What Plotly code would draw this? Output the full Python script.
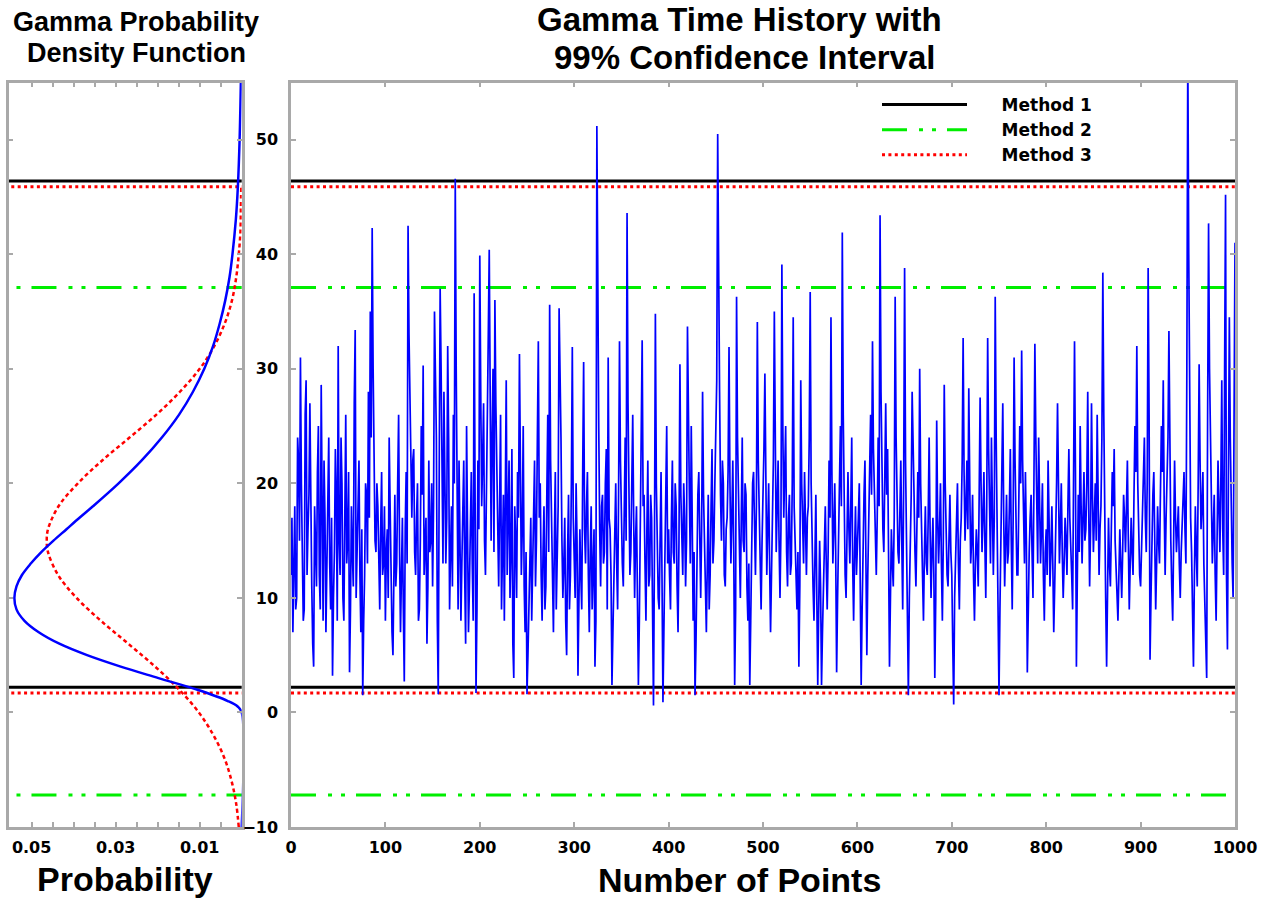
import plotly.graph_objects as go

# ---------------- data ----------------
# samples at even positions 0, 2, ..., 1000
gamma_values_even = [
    12, 7, 18, 10, 22, 31, 14, 9, 29, 16, 27, 11, 4, 15, 21, 12, 28.6, 8, 17, 13, 24, 9, 3.2, 14, 19,
    32, 12, 20, 8, 26, 15, 3.5, 18, 11, 33.4, 14, 22, 7, 1.5, 12, 19, 28, 35, 42.3, 23, 14, 18, 9, 21, 13,
    8, 16, 24, 11, 5, 19, 13, 26, 7, 17, 2.7, 21, 42.5, 28, 17, 23, 12, 20, 9, 25, 30.3, 14, 6, 22, 15,
    11, 35, 24, 1.6, 37, 20, 28, 13, 32, 9, 18, 26, 46.6, 15, 22, 8, 19, 12, 25, 7, 17, 13, 36.6, 1.7, 22,
    39.9, 18, 27, 12, 24, 40.4, 15, 30, 36, 20, 11, 26, 14, 8, 29, 17, 10, 23, 3, 15, 21, 31.3, 12, 25, 7,
    1.6, 9, 17, 12, 22, 15, 32.4, 20, 8, 18, 11, 26, 35.6, 16, 7, 21, 13, 35.3, 24, 10, 17, 5, 19, 12, 31.9,
    14, 20, 3.2, 16, 9, 30.6, 13, 21, 7, 18, 12, 4, 51.2, 25, 11, 19, 14, 23, 31, 16, 2.4, 12, 20, 9, 32.4,
    17, 11, 24, 43.6, 20, 14, 26, 10, 18, 2.4, 15, 32.5, 19, 8, 22, 12, 17, 0.6, 34.8, 14, 9, 21, 0.9, 13, 25,
    16, 9, 22, 13, 18, 7, 30.4, 15, 20, 11, 33.7, 19, 25, 8, 1.5, 14, 21, 10, 28, 16, 7, 19, 12, 23, 15,
    24, 50.5, 28, 15, 20, 11, 17, 31.9, 13, 22, 2.4, 36.3, 18, 10, 24, 14, 19, 8, 2.4, 16, 21, 12, 34.1, 17, 9,
    18, 29.6, 12, 20, 7, 16, 35, 14, 22, 10, 39.1, 17, 25, 11, 19, 13, 34.5, 15, 9, 4, 29, 16, 21, 12, 18,
    36.7, 14, 8, 19, 2.4, 15, 2.4, 11, 18, 9, 22, 34.5, 13, 20, 3.5, 16, 25, 41.9, 17, 10, 21, 13, 24, 8, 18,
    14, 20, 2.4, 15, 22, 5, 17, 26, 32.4, 19, 12, 24, 43.4, 21, 14, 27, 23, 4, 16, 11, 36.3, 18, 13, 22, 9,
    38.8, 16, 1.5, 14, 28, 19, 11, 21, 30, 15, 8, 18, 12, 24, 10, 17, 3, 25.5, 13, 20, 8, 28.6, 15, 11, 19,
    12, 0.7, 14, 20, 9, 17, 32.7, 15, 22, 28.3, 13, 19, 8, 16, 11, 27.5, 14, 21, 10, 32.7, 17, 24, 12, 36.3, 18,
    1.5, 15, 27, 11, 19, 14, 23, 9, 31, 17, 12, 25, 31.6, 16, 21, 3.5, 14, 19, 10, 32.2, 18, 24, 13, 20, 8,
    16, 22, 11, 18, 7, 15, 27, 13, 20, 10, 17, 12, 23, 15, 9, 32.4, 4, 19, 25, 13, 21, 16, 28, 11, 27,
    14, 20, 26, 12, 18, 38.4, 15, 4, 17, 11, 21, 23, 13, 8, 16, 10, 19, 14, 22, 9, 17, 12, 25, 32, 15,
    11, 19, 24, 14, 38.8, 4.6, 16, 21, 9, 18, 13, 25, 29, 12, 20, 33.3, 15, 8, 22, 14, 18, 10, 16, 21, 13,
    58, 22, 14, 4, 18, 11, 30.4, 16, 21, 9, 3, 42.7, 24, 13, 19, 8, 22, 14, 29, 12, 45.2, 5.5, 34.5, 17, 10,
    41,
]
# samples at odd positions 1, 3, ..., 999
gamma_values_odd = [
    17, 13, 9, 24, 15, 20, 8, 26, 12, 19, 14, 6, 18, 11, 25, 9, 16, 22, 7, 20, 13, 17, 10, 23, 8,
    15, 24, 10, 17, 13, 21, 9, 14, 27, 10, 19, 12, 16, 8, 20, 13, 17, 24, 30, 15, 20, 11, 16, 12, 18,
    14, 10, 18, 7, 15, 11, 20, 14, 12, 9, 16, 13, 33, 19, 22, 14, 17, 8, 15, 19, 12, 17, 11, 14, 20,
    18, 27, 8, 21, 30, 13, 22, 17, 24, 14, 11, 20, 30, 9, 16, 13, 22, 6, 15, 11, 21, 8, 24, 9, 16,
    28, 22, 15, 19, 33, 20, 24, 14, 27, 13, 18, 9, 19, 16, 12, 22, 14, 6, 18, 10, 17, 20, 16, 11, 14,
    5, 13, 8, 16, 11, 24, 17, 12, 14, 9, 19, 14, 22, 11, 15, 9, 18, 26, 15, 13, 8, 14, 9, 20, 17,
    10, 15, 9, 12, 21, 16, 18, 12, 14, 9, 16, 8, 30, 16, 18, 13, 20, 9, 17, 12, 7, 16, 13, 19, 22,
    13, 18, 15, 27, 12, 20, 17, 15, 10, 8, 21, 18, 13, 16, 11, 19, 9, 14, 20, 10, 16, 12, 7, 18, 13,
    12, 17, 14, 20, 11, 15, 19, 12, 17, 15, 22, 13, 17, 14, 6, 19, 12, 16, 19, 11, 14, 9, 18, 13, 20,
    29, 33, 19, 22, 12, 16, 21, 20, 17, 14, 9, 24, 13, 17, 15, 20, 11, 13, 8, 20, 15, 18, 22, 12, 15,
    23, 17, 16, 13, 12, 22, 20, 18, 15, 16, 25, 21, 14, 17, 12, 20, 18, 10, 14, 11, 20, 13, 15, 17, 24,
    20, 11, 15, 10, 9, 11, 7, 16, 13, 14, 17, 21, 16, 14, 10, 20, 18, 26, 12, 15, 16, 18, 13, 14, 12,
    17, 11, 9, 19, 13, 12, 21, 19, 23, 15, 17, 18, 28, 16, 20, 19, 14, 10, 13, 17, 24, 14, 19, 15, 20,
    22, 9, 10, 19, 21, 14, 16, 17, 20, 12, 14, 13, 17, 16, 14, 12, 10, 17, 16, 13, 15, 20, 12, 16, 14,
    6, 10, 18, 13, 15, 22, 21, 18, 16, 20, 15, 12, 13, 14, 19, 20, 17, 15, 18, 23, 13, 19, 17, 24, 9,
    9, 20, 17, 15, 13, 18, 15, 17, 22, 12, 18, 20, 22, 13, 15, 10, 17, 14, 20, 24, 13, 17, 16, 12, 14,
    12, 17, 14, 13, 11, 20, 18, 16, 14, 13, 15, 18, 17, 12, 20, 21, 12, 14, 18, 17, 15, 20, 18, 16, 19,
    17, 15, 19, 16, 24, 26, 10, 12, 13, 16, 18, 15, 10, 12, 13, 14, 17, 18, 15, 13, 14, 19, 21, 20, 12,
    15, 22, 17, 20, 26, 10, 19, 14, 13, 15, 19, 21, 18, 17, 24, 20, 11, 15, 17, 16, 13, 14, 19, 16, 30,
    40, 17, 9, 12, 14, 20, 22, 18, 13, 6, 26, 30, 17, 16, 12, 15, 18, 20, 16, 30, 12, 20, 24, 13, 25,
]

gamma_level = [-10, 0, 0.5, 1, 2, 3, 4, 5, 6, 7, 8, 9, 10, 11, 12, 13, 14, 15, 16, 17, 18, 20, 22, 24,
               26, 28, 30, 32, 34, 36, 38, 40, 43, 46, 50, 55]
gamma_prob = [0, 0, 0.0009, 0.0033, 0.0107, 0.0198, 0.0288, 0.0368, 0.0434, 0.0483, 0.0517, 0.0536,
              0.0541, 0.0536, 0.0523, 0.0502, 0.0477, 0.0448, 0.0417, 0.0386, 0.0354, 0.0293, 0.0238,
              0.0190, 0.0149, 0.0116, 0.0089, 0.0068, 0.0052, 0.0039, 0.0029, 0.0022, 0.0014, 0.0009,
              0.0005, 0.0002]

normal_level = [-10, -8, -6, -4, -2, 0, 2, 4, 6, 8, 10, 12, 14, 15, 16, 18, 20, 22, 24, 26, 28, 30,
                32, 34, 36, 38, 40, 42, 44, 46]
normal_prob = [0.0007, 0.0013, 0.0024, 0.0041, 0.0067, 0.0102, 0.0149, 0.0206, 0.0270, 0.0335, 0.0393,
               0.0437, 0.0461, 0.0464, 0.0461, 0.0436, 0.0390, 0.0332, 0.0267, 0.0203, 0.0147, 0.0100,
               0.0065, 0.0040, 0.0023, 0.0013, 0.0007, 0.0003, 0.0002, 0.0001]

method_names = ["Method 1", "Method 2", "Method 3"]
method_lower = [2.2, -7.2, 1.7]
method_upper = [46.4, 37.1, 45.9]

prob_tickvals = [0.05, 0.045, 0.04, 0.035, 0.03, 0.025, 0.02, 0.015, 0.01, 0.005]
prob_ticktext = ["0.05", "", "", "", "0.03", "", "", "", "0.01", ""]
value_ticks = [-10, 0, 10, 20, 30, 40, 50]
point_ticks = [0, 100, 200, 300, 400, 500, 600, 700, 800, 900, 1000]

# combine the two sample lists into one ordered series
samples = sorted([(2 * i, v) for i, v in enumerate(gamma_values_even)] +
                 [(2 * i + 1, v) for i, v in enumerate(gamma_values_odd)])
series_x = [s[0] for s in samples]
series_y = [s[1] for s in samples]

# ---------------- style ----------------
W, H = 1266, 899
FONT = "Liberation Sans, Arial, sans-serif"
TICKFONT = "DejaVu Sans, sans-serif"
GRAY = "#a9a9a9"
GREEN = "#00ee00"
method_styles = [
    dict(color="black", width=3, dash="solid"),
    dict(color=GREEN, width=3, dash="25px,12px,4px,9px,4px,11px"),
    dict(color="red", width=3, dash="3px,3.4px"),
]
prob_range = [0.0555, 0.0]
value_range = [-10, 55]
point_range = [0, 1000]


def fx(p):
    return p / W


def fy(p):
    return 1 - p / H


fig = go.Figure()

# left panel: confidence lines
for name, lo, hi, st in zip(method_names, method_lower, method_upper, method_styles):
    fig.add_trace(go.Scatter(
        x=[prob_range[0] + 0.01, prob_range[1] - 0.01, None, prob_range[0] + 0.01, prob_range[1] - 0.01],
        y=[lo, lo, None, hi, hi], mode="lines", line=st, showlegend=False, hoverinfo="skip",
        xaxis="x", yaxis="y"))

fig.add_trace(go.Scatter(x=normal_prob, y=normal_level, mode="lines",
                         line=dict(color="red", width=2.5, dash="4px,3px", shape="spline"),
                         showlegend=False, xaxis="x", yaxis="y"))
fig.add_trace(go.Scatter(x=gamma_prob, y=gamma_level, mode="lines",
                         line=dict(color="blue", width=2.5, shape="spline"),
                         showlegend=False, xaxis="x", yaxis="y"))

# right panel: confidence lines (legend)
pad = "\u00a0" * 5
for name, lo, hi, st in zip(method_names, method_lower, method_upper, method_styles):
    fig.add_trace(go.Scatter(
        x=[point_range[0], point_range[1], None, point_range[0], point_range[1]],
        y=[lo, lo, None, hi, hi], mode="lines", line=st, name=pad + name, showlegend=True,
        hoverinfo="skip", xaxis="x2", yaxis="y2"))

fig.add_trace(go.Scatter(x=series_x, y=series_y, mode="lines",
                         line=dict(color="blue", width=1.7), showlegend=False,
                         xaxis="x2", yaxis="y2"))

ydom = [fy(827), fy(82.5)]
axis_common = dict(showline=True, linecolor=GRAY, linewidth=2.5, mirror="ticks", ticks="inside",
                   tickcolor=GRAY, tickwidth=1.5, ticklen=5, showgrid=False, zeroline=False,
                   automargin=False,
                   tickfont=dict(family=TICKFONT, size=16, color="black", weight="bold"))

fig.update_layout(
    width=W, height=H, autosize=False,
    margin=dict(l=0, r=0, t=0, b=0, autoexpand=False),
    paper_bgcolor="white", plot_bgcolor="white",
    xaxis=dict(domain=[fx(8.5), fx(241.7)], range=prob_range, tickmode="array",
               tickvals=prob_tickvals, ticktext=prob_ticktext, ticklabelstandoff=4, **axis_common),
    yaxis=dict(domain=ydom, range=value_range, tickmode="array", tickvals=value_ticks,
               showticklabels=False, anchor="x", **axis_common),
    xaxis2=dict(domain=[fx(291), fx(1235)], range=point_range, tickmode="array",
                tickvals=point_ticks, anchor="y2", ticklabelstandoff=4, **axis_common),
    yaxis2=dict(domain=ydom, range=value_range, tickmode="array", tickvals=value_ticks,
                anchor="x2", ticklabelstandoff=7, **axis_common),
    legend=dict(x=fx(877), y=fy(87), xanchor="left", yanchor="top", bgcolor="rgba(0,0,0,0)",
                itemwidth=85, font=dict(family=TICKFONT, size=17, color="black", weight="bold"),
                tracegroupgap=0),
    showlegend=True,
)

texts = [
    ("<b>Gamma Probability</b>", 136, 22, 27),
    ("<b>Density Function</b>", 136, 53, 27),
    ("<b>Gamma Time History with</b>", 739, 20, 33),
    ("<b>99% Confidence Interval</b>", 744, 57, 33),
    ("<b>Probability</b>", 125, 879, 34),
    ("<b>Number of Points</b>", 739, 880, 34),
]
for t, x, y, s in texts:
    fig.add_annotation(text=t, x=fx(x), y=fy(y), xref="paper", yref="paper", xanchor="center",
                       yanchor="middle", showarrow=False,
                       font=dict(family=FONT, size=s, color="black"))

fig.write_html("out.html", config={"displayModeBar": False},
               post_script="document.body.style.margin='0';")
